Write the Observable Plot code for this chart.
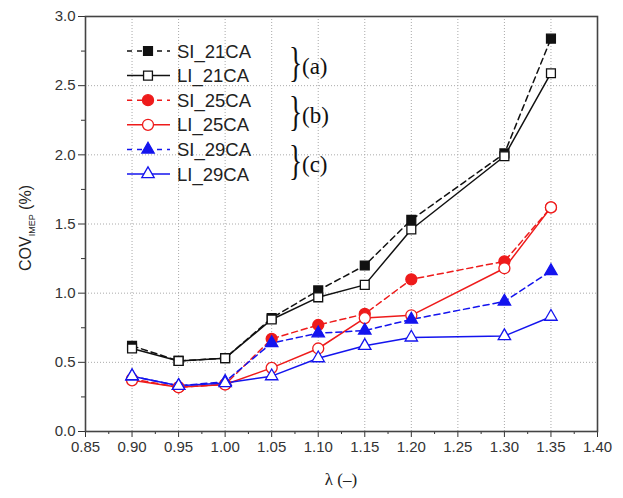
<!DOCTYPE html>
<html>
<head>
<meta charset="utf-8">
<script src="https://cdn.jsdelivr.net/npm/d3@7"></script>
<script src="https://cdn.jsdelivr.net/npm/@observablehq/plot@0.6"></script>
<style>
  html, body { margin: 0; padding: 0; background: #fff; }
  #chart { width: 623px; height: 498px; }
</style>
</head>
<body>
<div id="chart"></div>
<script>
// ---- data ----
const lambda = [0.90, 0.95, 1.00, 1.05, 1.10, 1.15, 1.20, 1.30, 1.35];
const si21 = [0.62, 0.51, 0.53, 0.82, 1.02, 1.20, 1.53, 2.01, 2.84];
const li21 = [0.60, 0.51, 0.53, 0.81, 0.97, 1.06, 1.46, 1.99, 2.59];
const si25 = [0.38, 0.32, 0.34, 0.67, 0.77, 0.85, 1.10, 1.23, 1.62];
const li25 = [0.37, 0.32, 0.34, 0.46, 0.60, 0.82, 0.84, 1.18, 1.62];
const si29 = [0.40, 0.33, 0.36, 0.64, 0.71, 0.73, 0.81, 0.94, 1.16];
const li29 = [0.40, 0.33, 0.35, 0.40, 0.53, 0.62, 0.68, 0.69, 0.83];
const seriesNames = ["SI_21CA", "LI_21CA", "SI_25CA", "LI_25CA", "SI_29CA", "LI_29CA"];
const groupLabels = ["(a)", "(b)", "(c)"];
const xTicks = [0.85, 0.90, 0.95, 1.00, 1.05, 1.10, 1.15, 1.20, 1.25, 1.30, 1.35, 1.40];
const yTicks = [0.0, 0.5, 1.0, 1.5, 2.0, 2.5, 3.0];
const xMinor = [0.875, 0.925, 0.975, 1.025, 1.075, 1.125, 1.175, 1.225, 1.275, 1.325, 1.375];
const yMinor = [0.25, 0.75, 1.25, 1.75, 2.25, 2.75];

// ---- styles ----
const BLACK = "#111", RED = "#ee1b1b", BLUE = "#1414ee";
const styles = [
  {values: si21, color: BLACK, dash: "6,4", symbol: "square", filled: true, r: 5},
  {values: li21, color: BLACK, dash: null, symbol: "square", filled: false, r: 5},
  {values: si25, color: RED, dash: "6,4", symbol: "circle", filled: true, r: 5.5},
  {values: li25, color: RED, dash: null, symbol: "circle", filled: false, r: 5.5},
  {values: si29, color: BLUE, dash: "6,4", symbol: "triangle", filled: true, r: 4.6},
  {values: li29, color: BLUE, dash: null, symbol: "triangle", filled: false, r: 4.6}
];

const tables = styles.map((s, i) => lambda.map((x, j) => ({x, y: s.values[j], name: seriesNames[i]})));

const marks = [
  Plot.gridX(xTicks.slice(1, -1), {stroke: "#aaa", strokeOpacity: 1, strokeDasharray: "1,2"}),
  Plot.gridY(yTicks.slice(1, -1), {stroke: "#aaa", strokeOpacity: 1, strokeDasharray: "1,2"}),
  Plot.axisX(xMinor, {tickSize: 3, tickFormat: () => "", label: null, stroke: "#333"}),
  Plot.axisY(yMinor, {tickSize: 4, tickFormat: () => "", label: null, stroke: "#333"}),
  Plot.axisX(xTicks, {tickSize: 6, tickPadding: 4, tickFormat: d3.format(".2f"), label: null,
    fontSize: 15, fill: "#333", stroke: "#333", fontFamily: "Liberation Sans, Arial, sans-serif"}),
  Plot.axisY(yTicks, {tickSize: 7, tickPadding: 3, tickFormat: d3.format(".1f"), label: null,
    fontSize: 15, fill: "#333", stroke: "#333", fontFamily: "Liberation Sans, Arial, sans-serif"}),
  Plot.frame({stroke: "#444", strokeWidth: 1.6})
];
styles.forEach((s, i) => {
  marks.push(Plot.line(tables[i], {x: "x", y: "y", stroke: s.color, strokeWidth: 1.5,
    strokeDasharray: s.dash || undefined}));
});
styles.forEach((s, i) => {
  marks.push(Plot.dot(tables[i], {x: "x", y: "y", symbol: s.symbol, r: s.r,
    fill: s.filled ? s.color : "#fff", stroke: s.color, strokeWidth: 1.3}));
});

const plot = Plot.plot({
  width: 623, height: 498,
  marginLeft: 85, marginRight: 26, marginTop: 16, marginBottom: 67,
  x: {domain: [0.85, 1.40]},
  y: {domain: [0, 3]},
  style: {background: "#fff", fontFamily: "Liberation Sans, Arial, sans-serif"},
  marks
});
document.getElementById("chart").appendChild(plot);

// ---- legend & axis titles ----
const svg = d3.select(plot);
const lg = svg.append("g").attr("text-anchor", "start");
const rowY = i => 51 + i * 24.6;
styles.forEach((s, i) => {
  const y = rowY(i);
  lg.append("line").attr("x1", 127).attr("x2", 170).attr("y1", y).attr("y2", y)
    .attr("stroke", s.color).attr("stroke-width", 1.5)
    .attr("stroke-dasharray", s.dash ? "5,5" : null);
  const sym = {square: d3.symbolSquare, circle: d3.symbolCircle, triangle: d3.symbolTriangle}[s.symbol];
  lg.append("path").attr("d", d3.symbol(sym, Math.PI * s.r * s.r)())
    .attr("transform", `translate(148,${y})`)
    .attr("fill", s.filled ? s.color : "#fff").attr("stroke", s.color).attr("stroke-width", 1.3);
  lg.append("text").attr("x", 177).attr("y", y).attr("dy", "0.36em").attr("text-anchor", "start")
    .attr("font-family", "Liberation Sans, Arial, sans-serif").attr("font-size", 18.5)
    .attr("fill", "#222").text(seriesNames[i]);
});
groupLabels.forEach((g, k) => {
  const yc = (rowY(2 * k) + rowY(2 * k + 1)) / 2;
  lg.append("text").attr("transform", `translate(289,${yc}) scale(0.65,1)`).attr("text-anchor", "start")
    .attr("dy", "0.3em").attr("font-family", "Liberation Serif, Times New Roman, serif")
    .attr("font-size", 42).attr("fill", "#111").text("}");
  lg.append("text").attr("x", 302).attr("y", yc + 3).attr("dy", "0.33em").attr("text-anchor", "start")
    .attr("font-family", "Liberation Serif, Times New Roman, serif")
    .attr("font-size", 23).attr("fill", "#111").text(g);
});

// y title
const yt = svg.append("text").attr("transform", "translate(31,228) rotate(-90)")
  .attr("text-anchor", "middle").attr("font-family", "Liberation Sans, Arial, sans-serif")
  .attr("font-size", 16).attr("fill", "#222");
yt.append("tspan").text("COV");
yt.append("tspan").attr("font-size", 9).attr("dy", 4).text("IMEP");
yt.append("tspan").attr("dy", -4).text(" (%)");

// x title
svg.append("text").attr("x", 341).attr("y", 479).attr("dy", "0.33em")
  .attr("text-anchor", "middle").attr("font-family", "Liberation Serif, Times New Roman, serif")
  .attr("font-size", 17).attr("fill", "#222").text("λ (–)");
</script>
</body>
</html>
